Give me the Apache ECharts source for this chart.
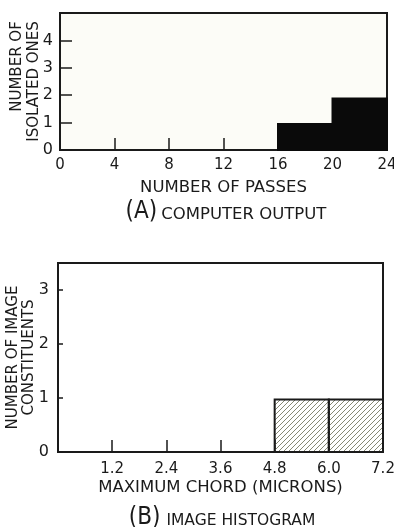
<!DOCTYPE html>
<html><head><meta charset="utf-8">
<script src="https://cdn.jsdelivr.net/npm/echarts@6/dist/echarts.min.js"></script>
<style>html,body{margin:0;padding:0;background:#fff}#c{width:394px;height:527px}</style>
</head><body><div id="c"></div>
<script>
// Chart A: computer output (bins of number of passes)
const binStartA = [16, 20];
const binEndA = [20, 24];
const countsA = [0.95, 1.88];
const xTicksA = [0, 4, 8, 12, 16, 20, 24];
const yTicksA = [0, 1, 2, 3, 4];
// Chart B: image histogram (maximum chord, microns)
const binStartB = [4.8, 6.0];
const binEndB = [6.0, 7.2];
const countsB = [0.97, 0.97];
const xTicksB = [1.2, 2.4, 3.6, 4.8, 6.0, 7.2];
const yTicksB = [0, 1, 2, 3];

const FONT = '"DejaVu Sans", sans-serif';
const NARROW = '"DejaVu Sans Condensed", "Liberation Sans Narrow", "DejaVu Sans", sans-serif';
const INK = '#1a1a1a';

// hatch pattern
const pc = document.createElement('canvas');
pc.width = 5; pc.height = 5;
const pctx = pc.getContext('2d');
pctx.strokeStyle = '#858874';
pctx.lineWidth = 1;
pctx.beginPath();
pctx.moveTo(0, 5); pctx.lineTo(5, 0);
pctx.moveTo(-1, 1); pctx.lineTo(1, -1);
pctx.moveTo(4, 6); pctx.lineTo(6, 4);
pctx.stroke();

function rectItem(fill, stroke) {
  return function (params, api) {
    const p0 = api.coord([api.value(0), 0]);
    const p1 = api.coord([api.value(1), api.value(2)]);
    return {
      type: 'rect',
      shape: { x: p0[0], y: p1[1], width: p1[0] - p0[0], height: p0[1] - p1[1] },
      style: { fill: fill, stroke: stroke, lineWidth: 2 }
    };
  };
}

const chart = echarts.init(document.getElementById('c'), null, { renderer: 'canvas' });
const axisLine = { show: true, lineStyle: { color: INK, width: 2 } };
const richA = {
  a: { fontSize: 24, fontFamily: NARROW, color: INK, fontWeight: 'normal' },
  b: { fontSize: 16.5, fontFamily: FONT, color: INK, fontWeight: 'normal', padding: [5, 0, 0, 4] }
};
const richB = {
  a: { fontSize: 24, fontFamily: NARROW, color: INK, fontWeight: 'normal' },
  b: { fontSize: 15.5, fontFamily: FONT, color: INK, fontWeight: 'normal', padding: [5, 0, 0, 6] }
};
chart.setOption({
  backgroundColor: '#fff',
  animation: false,
  title: [
    { text: '{a|(A)}{b|COMPUTER OUTPUT}', left: 221, top: 195, textAlign: 'center', textStyle: { rich: richA } },
    { text: '{a|(B)}{b|IMAGE HISTOGRAM}', left: 217, top: 501, textAlign: 'center', textStyle: { rich: richB } }
  ],
  grid: [
    { left: 60, top: 13, width: 327, height: 137, show: true, borderColor: INK, borderWidth: 2, backgroundColor: '#fcfcf7', outerBoundsMode: 'none', containLabel: false },
    { left: 58, top: 263, width: 325, height: 189, show: true, borderColor: INK, borderWidth: 2, backgroundColor: '#fff', outerBoundsMode: 'none', containLabel: false }
  ],
  xAxis: [
    { type: 'value', gridIndex: 0, min: xTicksA[0], max: xTicksA[xTicksA.length - 1], interval: 4,
      name: 'NUMBER OF PASSES', nameLocation: 'middle', nameGap: 29, nameMoveOverlap: false,
      nameTextStyle: { fontFamily: FONT, fontSize: 16.5, color: INK },
      axisLine: axisLine, splitLine: { show: false },
      axisTick: { show: true, inside: true, length: 12, lineStyle: { color: INK, width: 1.5 } },
      axisLabel: { fontFamily: FONT, fontSize: 15, color: INK, margin: 8 } },
    { type: 'value', gridIndex: 1, min: 0, max: xTicksB[xTicksB.length - 1], interval: 1.2,
      name: 'MAXIMUM CHORD (MICRONS)', nameLocation: 'middle', nameGap: 27, nameMoveOverlap: false,
      nameTextStyle: { fontFamily: FONT, fontSize: 16.5, color: INK },
      axisLine: axisLine, splitLine: { show: false },
      axisTick: { show: true, inside: true, length: 12, lineStyle: { color: INK, width: 1.5 } },
      axisLabel: { fontFamily: FONT, fontSize: 15, color: INK, margin: 10,
        formatter: v => (xTicksB.some(t => Math.abs(t - v) < 1e-6) ? v.toFixed(1) : '') } }
  ],
  yAxis: [
    { type: 'value', gridIndex: 0, min: 0, max: 5, interval: 1,
      name: '{r|NUMBER OF}\n{r|ISOLATED ONES}', nameLocation: 'middle', nameGap: 17, nameRotate: 90, nameMoveOverlap: false,
      nameTextStyle: { fontFamily: FONT, fontSize: 15, color: INK, lineHeight: 17,
        rich: { r: { fontFamily: FONT, fontSize: 15, color: INK, lineHeight: 17, align: 'right' } } },
      axisLine: axisLine, splitLine: { show: false },
      axisTick: { show: true, inside: true, length: 12, lineStyle: { color: INK, width: 1.5 } },
      axisLabel: { fontFamily: FONT, fontSize: 16, color: INK, margin: 7,
        formatter: v => (yTicksA.includes(v) ? String(v) : '') } },
    { type: 'value', gridIndex: 1, min: 0, max: 3.5, interval: 1,
      name: 'NUMBER OF IMAGE\nCONSTITUENTS', nameLocation: 'middle', nameGap: 21, nameRotate: 90, nameMoveOverlap: false,
      nameTextStyle: { fontFamily: FONT, fontSize: 15, color: INK, lineHeight: 16 },
      axisLine: axisLine, splitLine: { show: false },
      axisTick: { show: true, inside: true, length: 5, lineStyle: { color: INK, width: 1.5 } },
      axisLabel: { fontFamily: FONT, fontSize: 16, color: INK, margin: 9, showMaxLabel: false,
        formatter: v => (yTicksB.includes(v) ? String(v) : '') } }
  ],
  series: [
    { type: 'custom', xAxisIndex: 0, yAxisIndex: 0, renderItem: rectItem('#0a0a0a', '#0a0a0a'),
      encode: { x: [0, 1], y: 2 },
      data: binStartA.map((s, i) => [s, binEndA[i], countsA[i]]) },
    { type: 'custom', xAxisIndex: 1, yAxisIndex: 1,
      renderItem: rectItem({ image: pc, repeat: 'repeat' }, INK),
      encode: { x: [0, 1], y: 2 },
      data: binStartB.map((s, i) => [s, binEndB[i], countsB[i]]) }
  ]
});
</script></body></html>
